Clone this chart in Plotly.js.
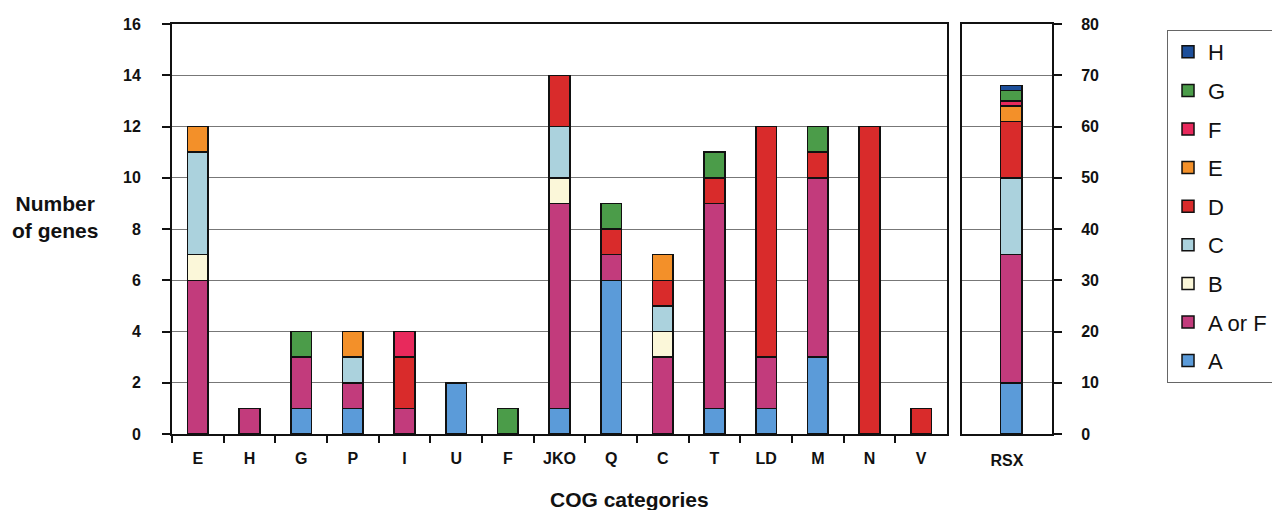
<!DOCTYPE html>
<html>
<head>
<meta charset="utf-8">
<script src="https://cdn.plot.ly/plotly-3.0.1.min.js"></script>
<style>html,body{margin:0;padding:0;background:#fff;}#chart{width:1272px;height:510px;}</style>
</head>
<body>
<div id="chart"></div>
<script>
// COG categories (main panel)
const categories = ['E','H','G','P','I','U','F','JKO','Q','C','T','LD','M','N','V'];
// Series values, stacked bottom to top
const seriesNames = ['A','A or F','B','C','D','E','F','G','H'];
const valA    = [0,0,1,1,0,2,0,1,6,0,1,1,3,0,0];
const valAorF = [6,1,2,1,1,0,0,8,1,3,8,2,7,0,0];
const valB    = [1,0,0,0,0,0,0,1,0,1,0,0,0,0,0];
const valC    = [4,0,0,1,0,0,0,2,0,1,0,0,0,0,0];
const valD    = [0,0,0,0,2,0,0,2,1,1,1,9,1,12,1];
const valE    = [1,0,0,1,0,0,0,0,0,1,0,0,0,0,0];
const valF    = [0,0,0,0,1,0,0,0,0,0,0,0,0,0,0];
const valG    = [0,0,1,0,0,0,1,0,1,0,1,0,1,0,0];
const valH    = [0,0,0,0,0,0,0,0,0,0,0,0,0,0,0];
// RSX panel (right axis)
const rsxCategory = ['RSX'];
const rsxValues = [10,25,0,15,11,3,1,2,1]; // A, A or F, B, C, D, E, F, G, H
const leftTicks = [0,2,4,6,8,10,12,14,16];
const rightTicks = [0,10,20,30,40,50,60,70,80];

const colors = ['#5b9bd9','#c23b7c','#fbf7d9','#abd2dd','#d92b2b','#f39029','#e8295c','#4b9c49','#1d4f9a'];
const mainSeries = [valA,valAorF,valB,valC,valD,valE,valF,valG,valH];
const nz = v => v === 0 ? null : v;

const FONT = 'Liberation Sans, Arial, sans-serif';
const traces = [];
seriesNames.forEach((name,i)=>{
  traces.push({
    type:'bar', name:name, x:categories, y:mainSeries[i].map(nz),
    xaxis:'x', yaxis:'y', width:0.4,
    marker:{color:colors[i], line:{color:'#111', width:1.5}},
    legendgroup:name, legendrank:100-i, showlegend:true
  });
  traces.push({
    type:'bar', name:name, x:rsxCategory, y:[nz(rsxValues[i])],
    xaxis:'x2', yaxis:'y2', width:0.234, offset:-0.07,
    marker:{color:colors[i], line:{color:'#111', width:1.5}},
    legendgroup:name, legendrank:100-i, showlegend:false
  });
});

const tickFont = {family:FONT, size:16, color:'#111', weight:'bold'};
const layout = {
  width:1272, height:510,
  margin:{l:172, r:220, t:24, b:76, autoexpand:false},
  barmode:'stack',
  paper_bgcolor:'#fff', plot_bgcolor:'#fff',
  font:{family:FONT, color:'#111'},
  xaxis:{
    domain:[0, 0.8807], type:'category', range:[-0.5,14.5], automargin:false,
    showline:true, mirror:true, linecolor:'#111', linewidth:2,
    ticks:'outside', tickson:'boundaries', ticklen:7, tickwidth:2, tickcolor:'#111',
    tickfont:tickFont, ticklabelstandoff:9, showgrid:false
  },
  yaxis:{
    domain:[0,1], range:[0,16], tickvals:leftTicks, automargin:false,
    showline:true, mirror:true, linecolor:'#111', linewidth:2,
    ticks:'outside', ticklen:8, tickwidth:2, tickcolor:'#111',
    tickfont:tickFont, ticklabelstandoff:18,
    showgrid:true, gridcolor:'#777', gridwidth:1, zeroline:false
  },
  xaxis2:{
    domain:[0.8977, 1], type:'category', anchor:'y2', range:[-0.5,0.5], automargin:false,
    showline:true, mirror:true, linecolor:'#111', linewidth:2,
    ticks:'', tickfont:tickFont, ticklabelstandoff:11, showgrid:false
  },
  yaxis2:{
    domain:[0,1], anchor:'x2', side:'right', range:[0,80], tickvals:rightTicks, automargin:false,
    showline:true, mirror:true, linecolor:'#111', linewidth:2,
    ticks:'outside', ticklen:8, tickwidth:2, tickcolor:'#111',
    tickfont:tickFont, ticklabelstandoff:16,
    showgrid:true, gridcolor:'#777', gridwidth:1, zeroline:false
  },
  legend:{
    x:1.1307, xanchor:'left', y:0.9854, yanchor:'top',
    traceorder:'grouped', tracegroupgap:7,
    bordercolor:'#666', borderwidth:1, bgcolor:'#fff',
    font:{family:FONT, size:22, color:'#111'}
  },
  annotations:[{
    text:'<b>Number<br>of genes</b>', xref:'paper', yref:'paper',
    x:(55-172)/880, y:(434-217)/410, xanchor:'center', yanchor:'middle', showarrow:false,
    font:{family:FONT, size:21, color:'#111'}, align:'center'
  },{
    text:'<b>COG categories</b>', xref:'paper', yref:'paper',
    x:(629-172)/880, y:(434-500)/410, xanchor:'center', yanchor:'middle', showarrow:false,
    font:{family:FONT, size:21, color:'#111'}
  }],
  showlegend:true
};
Plotly.newPlot('chart', traces, layout, {displayModeBar:false, staticPlot:true});
</script>
</body>
</html>
